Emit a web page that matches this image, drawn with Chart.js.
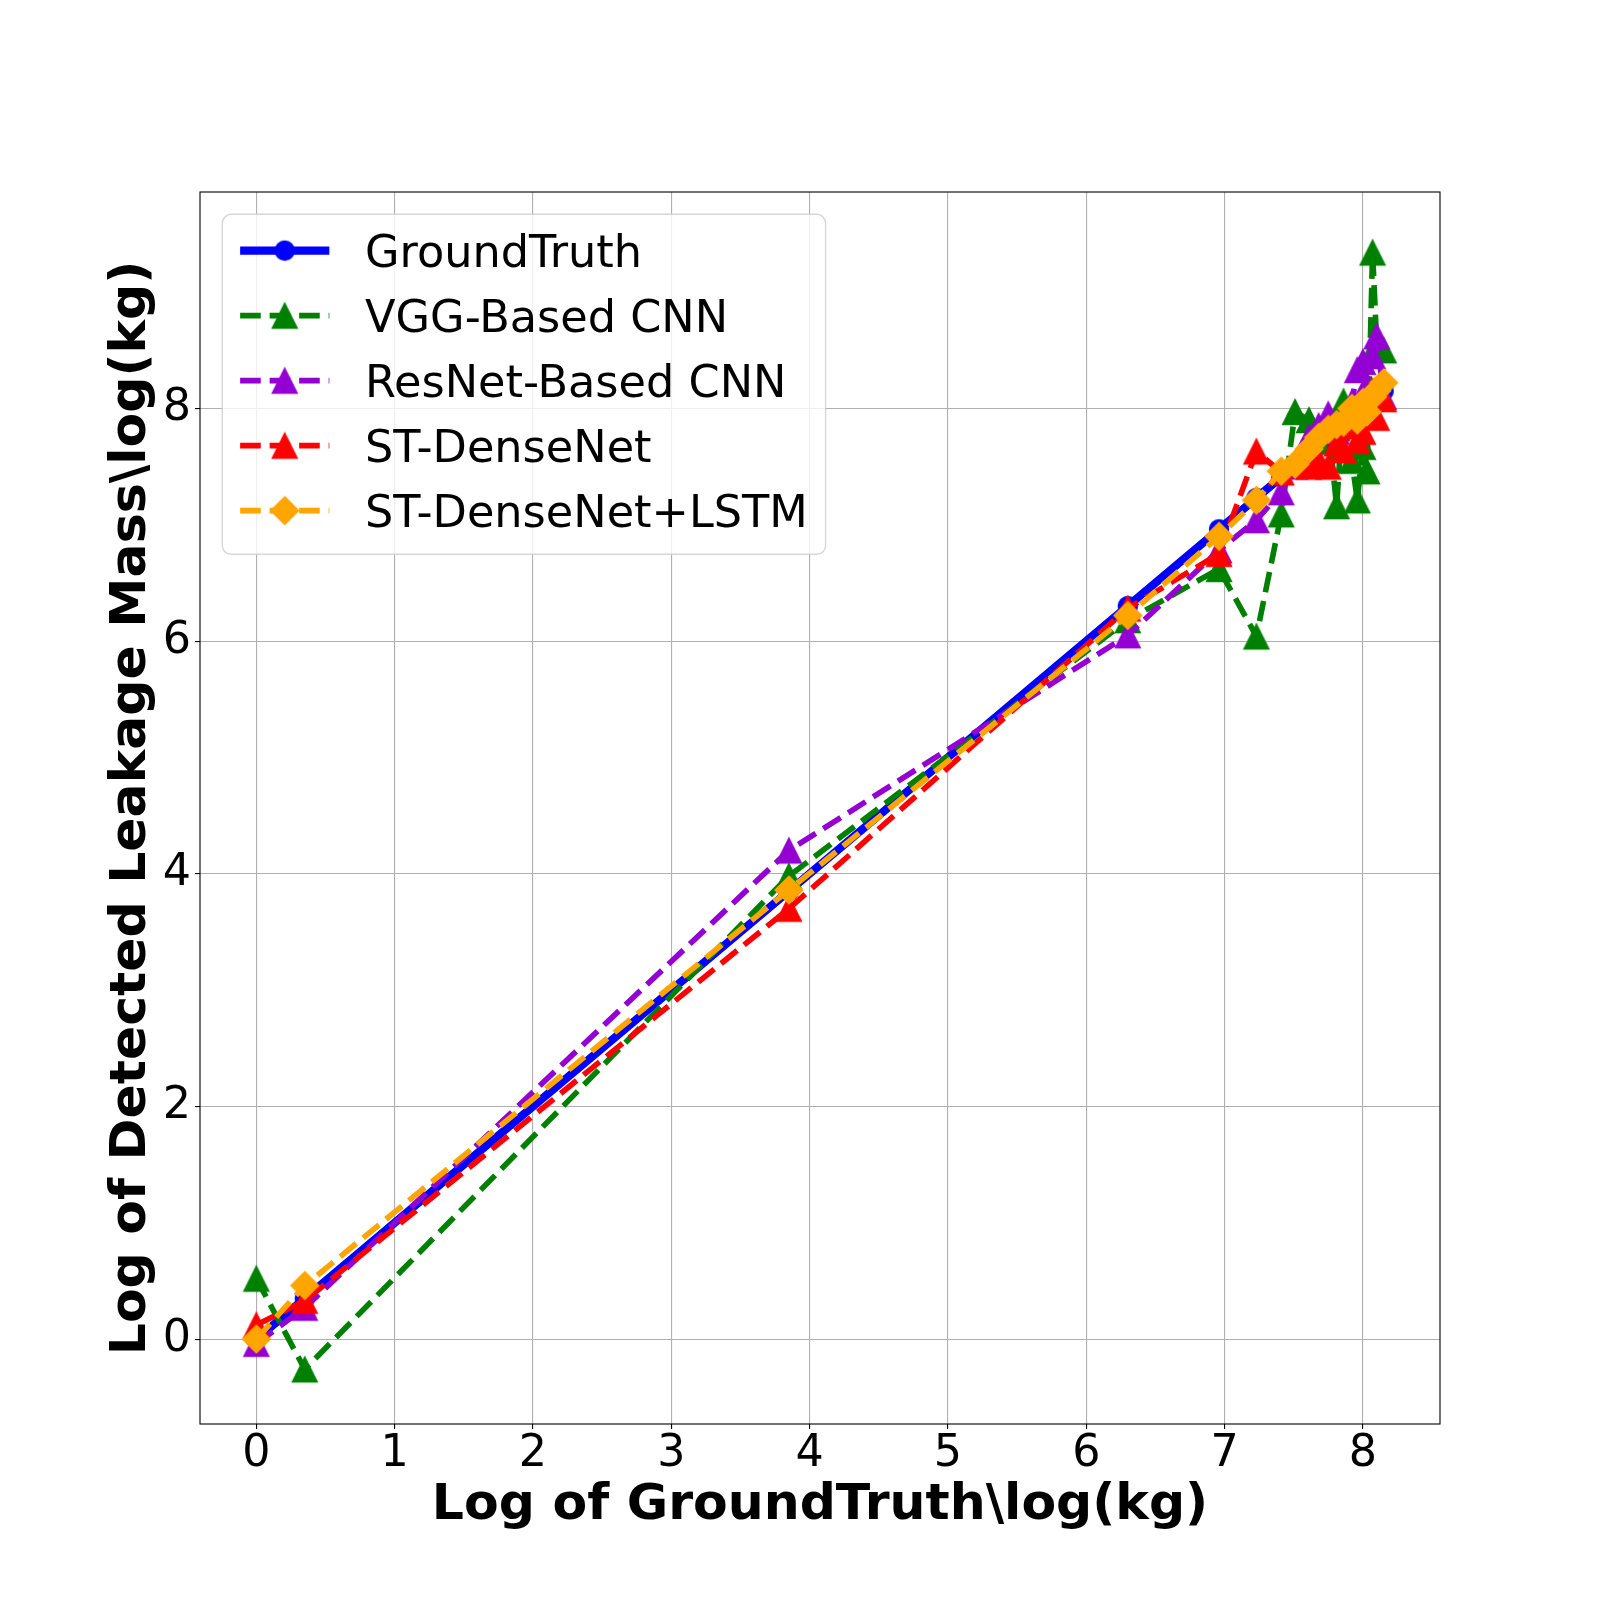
<!DOCTYPE html>
<html>
<head>
<meta charset="utf-8">
<script src="https://cdn.jsdelivr.net/npm/chart.js@4.4.1/dist/chart.umd.min.js"></script>
<style>
  html, body { margin: 0; padding: 0; background: #ffffff; }
  #wrap { width: 1600px; height: 1600px; }
</style>
</head>
<body>
<div id="wrap"><canvas id="c" width="1600" height="1600"></canvas></div>
<script>
// ---------------- data ----------------
const groundTruthX = [0, 0.35, 3.85, 6.3, 6.96, 7.23, 7.41, 7.51, 7.61, 7.68, 7.75, 7.81, 7.86, 7.92, 7.96, 8.0, 8.03, 8.07, 8.1, 8.15];
const groundTruthY = [0, 0.35, 3.85, 6.3, 6.96, 7.23, 7.41, 7.51, 7.61, 7.68, 7.75, 7.81, 7.86, 7.92, 7.96, 8.0, 8.03, 8.07, 8.1, 8.15];
const vggY         = [0.52, -0.26, 3.98, 6.18, 6.62, 6.04, 7.09, 7.97, 7.9, 7.72, 7.85, 7.16, 8.06, 7.55, 7.21, 7.67, 7.46, 9.34, 8.56, 8.5];
const resnetY      = [-0.04, 0.27, 4.2, 6.05, 6.78, 7.04, 7.28, 7.5, 7.75, 7.85, 7.95, 7.8, 7.9, 8.05, 8.33, 8.4, 8.2, 8.45, 8.62, 8.1];
const denseY       = [0.12, 0.33, 3.7, 6.28, 6.75, 7.63, 7.45, 7.52, 7.5, 7.55, 7.5, 7.7, 7.64, 7.85, 7.72, 7.8, 7.95, 8.15, 7.92, 8.08];
const lstmY        = [0.0, 0.46, 3.86, 6.22, 6.9, 7.21, 7.46, 7.52, 7.65, 7.75, 7.82, 7.86, 7.88, 8.0, 7.9, 8.05, 7.97, 8.1, 8.15, 8.22];

const seriesLabels = ['GroundTruth', 'VGG-Based CNN', 'ResNet-Based CNN', 'ST-DenseNet', 'ST-DenseNet+LSTM'];
const xTickValues = [0, 1, 2, 3, 4, 5, 6, 7, 8];
const yTickValues = [0, 2, 4, 6, 8];
const xTitle = 'Log of GroundTruth\\log(kg)';
const yTitle = 'Log of Detected Leakage Mass\\log(kg)';

// ---------------- styling ----------------
const FONT = '"DejaVu Sans", "Liberation Sans", sans-serif';
const X_MIN = -0.4075, X_MAX = 8.5575;
const Y_MIN = -0.73, Y_MAX = 9.86;

function marker(shape, color) {
  const s = 34, c = s / 2;
  const cv = document.createElement('canvas');
  cv.width = s; cv.height = s;
  const g = cv.getContext('2d');
  g.fillStyle = color; g.strokeStyle = color; g.lineWidth = 1.2;
  g.beginPath();
  if (shape === 'circle') {
    g.arc(c, c, 9.6, 0, Math.PI * 2);
  } else if (shape === 'triangle') {
    const h = 12.6;
    g.moveTo(c, c - h); g.lineTo(c + h, c + h); g.lineTo(c - h, c + h); g.closePath();
  } else {
    const h = 14;
    g.moveTo(c, c - h); g.lineTo(c + h, c); g.lineTo(c, c + h); g.lineTo(c - h, c); g.closePath();
  }
  g.fill(); g.stroke();
  return cv;
}

function series(label, ys, color, width, dash, shape, order) {
  return {
    label,
    data: groundTruthX.map((x, i) => ({ x: x, y: ys[i] })),
    showLine: true,
    borderColor: color,
    backgroundColor: color,
    borderWidth: width,
    borderDash: dash,
    borderJoinStyle: 'round',
    borderCapStyle: 'butt',
    pointStyle: marker(shape, color),
    pointRadius: 10,
    pointHoverRadius: 10,
    pointBorderWidth: 0,
    order: order
  };
}

const DASH = [20.6, 8.9];
const datasets = [
  series(seriesLabels[0], groundTruthY, '#0000ff', 8.3, [], 'circle', 5),
  series(seriesLabels[1], vggY, '#008000', 5.6, DASH, 'triangle', 4),
  series(seriesLabels[2], resnetY, '#9400d3', 5.6, DASH, 'triangle', 3),
  series(seriesLabels[3], denseY, '#ff0000', 5.6, DASH, 'triangle', 2),
  series(seriesLabels[4], lstmY, '#ffa500', 5.6, DASH, 'diamond', 1)
];

const framePlugin = {
  id: 'frame',
  afterDatasetsDraw(chart) {
    const { ctx, chartArea: a } = chart;
    ctx.save();
    ctx.strokeStyle = '#000';
    ctx.lineWidth = 1.1;
    ctx.strokeRect(a.left, a.top, a.right - a.left, a.bottom - a.top);
    ctx.restore();
  }
};

const legendPlugin = {
  id: 'mplLegend',
  afterDraw(chart) {
    const { ctx, chartArea: a } = chart;
    const fs = 44.6;
    const pad = 0.4 * fs, handleLen = 2.0 * fs, textPad = 0.8 * fs;
    ctx.save();
    ctx.font = fs + 'px ' + FONT;
    let maxW = 0;
    chart.data.datasets.forEach(d => { maxW = Math.max(maxW, ctx.measureText(d.label).width); });
    const L = a.left + 0.5 * fs, T = a.top + 0.5 * fs;
    const W = pad * 2 + handleLen + textPad + maxW, H = 340;
    const r = 0.2 * fs;
    ctx.beginPath();
    ctx.moveTo(L + r, T);
    ctx.lineTo(L + W - r, T); ctx.arcTo(L + W, T, L + W, T + r, r);
    ctx.lineTo(L + W, T + H - r); ctx.arcTo(L + W, T + H, L + W - r, T + H, r);
    ctx.lineTo(L + r, T + H); ctx.arcTo(L, T + H, L, T + H - r, r);
    ctx.lineTo(L, T + r); ctx.arcTo(L, T, L + r, T, r);
    ctx.closePath();
    ctx.fillStyle = 'rgba(255,255,255,0.8)';
    ctx.fill();
    ctx.strokeStyle = 'rgba(204,204,204,0.8)';
    ctx.lineWidth = 1.4;
    ctx.stroke();

    const hx0 = L + pad, hx1 = hx0 + handleLen, hxc = (hx0 + hx1) / 2;
    chart.data.datasets.forEach((d, i) => {
      const y = T + 36.3 + 65 * i;
      ctx.beginPath();
      ctx.setLineDash(d.borderDash || []);
      ctx.lineDashOffset = 0;
      ctx.lineCap = 'butt';
      ctx.strokeStyle = d.borderColor;
      ctx.lineWidth = d.borderWidth;
      ctx.moveTo(hx0, y); ctx.lineTo(hx1, y);
      ctx.stroke();
      ctx.setLineDash([]);
      const img = d.pointStyle;
      ctx.drawImage(img, hxc - img.width / 2, y - img.height / 2);
      ctx.fillStyle = '#000';
      ctx.textBaseline = 'alphabetic';
      ctx.textAlign = 'left';
      ctx.fillText(d.label, hx1 + textPad, y + 0.3645 * fs);
    });
    ctx.restore();
  }
};

new Chart(document.getElementById('c'), {
  type: 'scatter',
  data: { datasets: datasets },
  options: {
    responsive: false,
    animation: false,
    devicePixelRatio: 1,
    events: [],
    layout: { padding: { left: 0, right: 160, top: 192, bottom: 0 } },
    scales: {
      x: {
        type: 'linear', min: X_MIN, max: X_MAX,
        afterBuildTicks: s => { s.ticks = xTickValues.map(v => ({ value: v })); },
        afterFit: s => { s.height = 176; },
        ticks: { autoSkip: false, maxRotation: 0, minRotation: 0, color: '#000',
                 font: { family: FONT, size: 44.4, lineHeight: 1 }, padding: 3,
                 callback: v => String(v) },
        grid: { color: '#b0b0b0', lineWidth: 1.1, tickLength: 5, tickColor: '#000', tickWidth: 1.1 },
        border: { display: false },
        title: { display: true, text: xTitle, color: '#000',
                 font: { family: FONT, size: 50.5, weight: 'bold', lineHeight: 1.2 },
                 padding: { top: 0, bottom: 64 } }
      },
      y: {
        type: 'linear', min: Y_MIN, max: Y_MAX,
        afterBuildTicks: s => { s.ticks = yTickValues.map(v => ({ value: v })); },
        afterFit: s => { s.width = 200; },
        ticks: { autoSkip: false, color: '#000',
                 font: { family: FONT, size: 44.4, lineHeight: 1 }, padding: 4,
                 callback: v => String(v) },
        grid: { color: '#b0b0b0', lineWidth: 1.1, tickLength: 5, tickColor: '#000', tickWidth: 1.1 },
        border: { display: false },
        title: { display: true, text: yTitle, color: '#000',
                 font: { family: FONT, size: 50.5, weight: 'bold', lineHeight: 1.2 },
                 padding: { top: 102, bottom: 0 } }
      }
    },
    plugins: { legend: { display: false }, tooltip: { enabled: false } }
  },
  plugins: [framePlugin, legendPlugin]
});
</script>
</body>
</html>
